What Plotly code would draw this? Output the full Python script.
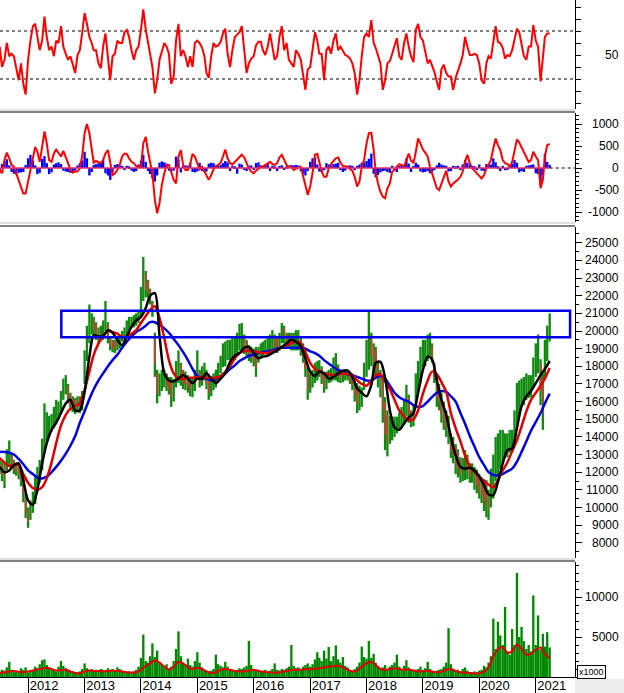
import plotly.graph_objects as go
from datetime import date

# ---------------- dates (half-month steps and month steps) ----------------
half_dates = []
for yy in range(2011, 2022):
    for mm in range(1, 13):
        for dd in (1, 16):
            dt = date(yy, mm, dd)
            if date(2011, 7, 1) <= dt <= date(2021, 4, 1):
                half_dates.append(dt.isoformat())
month_dates = [d for d in half_dates if d.endswith("-01")]

year_ticks = ["2012-01-01", "2013-01-01", "2014-01-01", "2015-01-01", "2016-01-01",
              "2017-01-01", "2018-01-01", "2019-01-01", "2020-01-01", "2021-01-01"]
year_labels = ["2012", "2013", "2014", "2015", "2016", "2017", "2018", "2019", "2020", "2021"]

# ---------------- price (half-month low / high) ----------------
price_low = [
    11900, 11500, 11100, 12100, 12300, 12200, 11900, 11800, 11600, 11200, 10300, 9400,
    8850, 9300, 9700, 10200, 10900, 11400, 12100, 13200, 13700, 14000, 14300, 14500,
    14800, 15000, 15300, 16100, 16400, 15900, 15500, 15400, 15300, 15400, 15350, 15500,
    17000, 18300, 19300, 19800, 19700, 19500, 19300, 19400, 19500, 20000, 19300, 18900,
    18800, 18750, 18900, 19000, 19400, 19500, 19800, 20050, 20200, 20200, 20300, 20450,
    20800, 21700, 21900, 21900, 21500, 20800, 17400, 15900, 16300, 16600, 16800, 16600,
    16400, 15700, 16000, 16800, 17050, 16900, 16700, 16650, 16500, 16300, 16250, 16600,
    17400, 16800, 16900, 17200, 16700, 16100, 16300, 16650, 16800, 17200, 17600, 17950,
    18000, 18350, 18350, 18400, 18350, 18600, 18900, 18900, 18700, 18550, 18300, 18200,
    18000, 17400, 18200, 18550, 18600, 18700, 18750, 18800, 18900, 18800, 18750, 18900,
    19300, 19300, 19100, 19100, 18900, 18900, 18900, 18900, 18600, 18200, 17400, 16100,
    16500, 16800, 17050, 17200, 17400, 17000, 16500, 16700, 17050, 17100, 17200, 17200,
    17100, 17050, 17100, 17200, 17200, 17000, 16650, 16000, 15350, 15500, 15700, 16650,
    17400, 17800, 18000, 17600, 17400, 16800, 16250, 14800, 13250, 12900, 13600, 13800,
    14000, 14200, 14400, 14550, 14800, 15150, 14800, 14550, 14600, 15700, 16600, 17050,
    17950, 18000, 18300, 18600, 18200, 17050, 15700, 15500, 14800, 14400, 14000, 13600,
    12800, 12500, 11900, 11700, 11400, 11500, 11550, 11600, 11400, 11400, 11000, 10800,
    10500, 10250, 9800, 9450, 9300, 10000, 10500, 11500, 11800, 12200, 12500, 12800,
    12850, 13100, 13100, 13600, 14550, 15300, 15700, 15800, 16100, 16200, 16250, 16800,
    17400, 17600, 15800, 14400, 17400, 18300, 19400]
price_high = [
    12700, 12600, 12500, 13300, 13800, 13100, 12700, 12500, 12400, 12300, 11800, 10800,
    10000, 10400, 10900, 11700, 12300, 12700, 13900, 15900, 15400, 15200, 15300, 15700,
    16100, 16000, 16600, 17300, 17500, 17000, 16500, 16300, 16200, 16300, 16300, 16600,
    18900, 20300, 21500, 21000, 20800, 20500, 20200, 20300, 20600, 21700, 20500, 19700,
    19500, 19500, 19600, 19800, 20000, 20200, 20600, 20800, 20800, 20900, 21000, 21100,
    22500, 24200, 23400, 22900, 22400, 21700, 19900, 17800, 17600, 17800, 17800, 17600,
    17400, 17400, 17300, 18300, 18900, 18200, 17800, 17700, 17500, 17300, 17400, 17800,
    18900, 17800, 18000, 18200, 17800, 17400, 17300, 17600, 17800, 18200, 18600, 19300,
    19400, 19500, 19500, 19600, 19650, 19900, 20400, 20450, 19800, 19500, 19200, 19100,
    19000, 19100, 19100, 19300, 19400, 19500, 19650, 19800, 20050, 19800, 19650, 19900,
    20450, 20300, 19900, 19900, 19900, 19900, 20050, 20050, 19600, 19300, 19000, 17950,
    17600, 17800, 18200, 18300, 18350, 18000, 17600, 17700, 17800, 17900, 18500, 18750,
    18100, 17800, 17800, 17800, 17800, 17700, 17600, 17200, 17050, 16900, 16800, 18200,
    19500, 21100, 19900, 19300, 19100, 18200, 17800, 17400, 16250, 15500, 15200, 15150,
    15150, 15150, 15400, 15700, 16100, 16950, 16400, 15500, 15800, 17600, 18300, 19100,
    19500, 19500, 19800, 19900, 19300, 18200, 17400, 17000, 16500, 16000, 15500, 15200,
    14200, 14000, 13600, 13300, 12850, 12800, 13250, 13000, 12500, 12500, 12300, 12150,
    11900, 11700, 11600, 11550, 11000, 12200, 13000, 14000, 14200, 14400, 14400, 14200,
    14200, 14400, 14400, 15500, 17050, 17200, 17300, 17400, 17600, 17500, 17500, 18500,
    19300, 19800, 18400, 17600, 19500, 20300, 21000]

# ---------------- price moving averages (monthly) ----------------
ma_black = [
    12300, 12000, 12100, 12400, 12500, 11550, 10400, 10150, 11000, 12500, 13650, 14400,
    14800, 15350, 15900, 16100, 15500, 15500, 16550, 18550, 19750, 19700, 19700, 20050,
    19900, 19500, 19200, 19700, 20250, 20600, 20800, 21300, 22000, 22150, 19750, 17600,
    17200, 17150, 17300, 17500, 17300, 17050, 17300, 17300, 17600, 17300, 17050, 17300,
    17600, 18250, 18600, 18750, 19050, 19100, 18750, 18450, 18550, 18600, 18750, 18900,
    19100, 19300, 19500, 19400, 19150, 18450, 17700, 17450, 17700, 17600, 17300, 17400,
    17600, 17750, 17750, 17400, 16750, 16500, 16300, 16950, 18200, 18250, 17350, 15500,
    14550, 14400, 14750, 15100, 15350, 16500, 17800, 18550, 18400, 17200, 16100, 15250,
    14000, 12950, 12300, 12200, 12250, 12100, 11750, 11250, 10750, 10700, 11450, 12500,
    13250, 13350, 14500, 15750, 16300, 16600, 17050, 17500, 17850, 18300]
ma_red = [
    12800, 12550, 12350, 12400, 12400, 11900, 11400, 11100, 11000, 11150, 11650, 12550,
    13650, 14650, 15250, 15600, 15750, 15900, 16650, 17700, 18650, 19300, 19750, 20000,
    19950, 19850, 19650, 19700, 19850, 20050, 20450, 20850, 21200, 21400, 20750, 19600,
    18350, 17600, 17300, 17300, 17350, 17350, 17400, 17350, 17350, 17350, 17350, 17450,
    17700, 18000, 18450, 18750, 18850, 18900, 18850, 18800, 18750, 18750, 18850, 18900,
    19100, 19200, 19300, 19400, 19300, 18800, 18200, 17850, 17700, 17600, 17550, 17500,
    17550, 17600, 17550, 17500, 17200, 17000, 16900, 17200, 17500, 17550, 17150, 16700,
    16100, 15500, 15150, 14950, 15000, 15500, 16450, 17200, 17700, 17550, 17100, 16550,
    15350, 14500, 13750, 12950, 12350, 12000, 11750, 11500, 11300, 11150, 11550, 12100,
    12550, 13200, 13800, 14600, 15450, 16100, 16500, 16900, 17300, 17900]
ma_blue = [
    13150, 13150, 13100, 13000, 12750, 12450, 12100, 11900, 11700, 11650, 11750, 12000,
    12300, 12650, 13050, 13500, 14050, 14800, 15450, 16150, 16700, 17200, 17600, 18000,
    18350, 18650, 19050, 19400, 19700, 19950, 20100, 20300, 20500, 20500, 20350, 20150,
    19900, 19550, 19200, 18800, 18350, 17850, 17450, 17350, 17300, 17200, 17300, 17450,
    17600, 17850, 18050, 18300, 18450, 18600, 18650, 18750, 18800, 18850, 18900, 19000,
    19050, 19050, 19050, 19050, 19050, 19000, 18850, 18750, 18600, 18350, 18150, 17950,
    17800, 17700, 17550, 17500, 17400, 17300, 17200, 17200, 17350, 17450, 17300, 16900,
    16500, 16250, 16100, 16000, 15800, 15700, 15750, 16000, 16250, 16500, 16600, 16550,
    16300, 16000, 15350, 14750, 14050, 13450, 12850, 12400, 12000, 11850, 11800, 11900,
    12050, 12200, 12600, 13150, 13750, 14350, 14850, 15350, 15900, 16450]

# ---------------- RSI (half-month) ----------------
rsi = [
    57, 40, 46, 60, 49, 51, 49, 40, 29, 43, 26, 17,
    46, 62, 74, 76, 65, 54, 62, 82, 65, 54, 57, 49,
    62, 60, 74, 57, 51, 46, 49, 42, 35, 50, 54, 68,
    85, 76, 65, 60, 54, 54, 43, 39, 57, 68, 46, 29,
    49, 51, 62, 60, 60, 69, 71, 65, 54, 46, 54, 57,
    71, 88, 71, 60, 54, 40, 18, 29, 46, 54, 60, 57,
    51, 26, 32, 62, 76, 49, 54, 49, 40, 49, 40, 60,
    62, 60, 56, 49, 35, 31, 49, 60, 57, 58, 61, 68,
    72, 51, 40, 54, 65, 67, 69, 74, 54, 35, 43, 47,
    49, 58, 61, 61, 54, 50, 57, 68, 57, 46, 49, 65,
    74, 54, 60, 46, 43, 40, 54, 51, 46, 32, 21, 38,
    40, 54, 69, 62, 51, 51, 29, 54, 57, 51, 62, 68,
    54, 57, 53, 50, 49, 47, 43, 35, 17, 29, 49, 65,
    68, 65, 79, 60, 56, 49, 43, 21, 29, 43, 45, 51,
    57, 64, 49, 46, 60, 68, 57, 49, 44, 71, 76, 65,
    62, 54, 43, 46, 42, 36, 28, 21, 38, 42, 35, 32,
    32, 21, 31, 36, 43, 50, 65, 57, 50, 50, 51, 50,
    43, 29, 26, 43, 49, 47, 61, 74, 61, 60, 56, 47,
    50, 49, 54, 62, 72, 69, 60, 49, 46, 57, 57, 75,
    62, 57, 28, 51, 65, 68, 68]
rsi_levels = [70, 30]

# ---------------- MACD (half-month) ----------------
macd_line = [
    -45, -120, 180, 350, 220, 70, 30, -120, -235, -420, -580, -580,
    -310, -80, 260, 480, 370, 140, 480, 830, 560, 180, 140, 330,
    420, 330, 260, 390, 260, 110, -45, -105, -80, -80, -10, 260,
    790, 1000, 790, 410, 120, 160, 140, 110, 180, 330, 410, 110,
    -160, -120, -45, 70, 260, 330, 320, 220, 140, 110, 45, 30,
    30, 560, 710, 370, 140, -120, -730, -1030, -800, -390, -120, 70,
    70, -80, -270, -350, 260, 410, 70, -45, -45, 100, 320, 260,
    110, -30, 30, -80, -160, -270, -160, -30, 30, 70, 120, 260,
    420, 220, 110, 80, 140, 200, 260, 300, 240, 110, -10, -80,
    -120, -60, -10, 30, 30, 70, 120, 140, 90, 70, 110, 240,
    300, 180, 70, 30, 30, -45, -10, 15, 30, -160, -390, -610,
    -420, -120, 300, 320, 110, -80, -200, -200, -10, 90, 160, 220,
    240, 120, 45, 30, 30, -20, -60, -200, -420, -310, 30, 180,
    560, 790, 800, 410, -80, -350, -540, -650, -690, -460, -350, -80,
    -45, 30, 90, 70, 30, 180, 330, 170, 110, 370, 670, 560,
    420, 350, 260, 30, -120, -310, -460, -500, -350, -200, -60, -310,
    -420, -350, -310, -260, -200, -80, 140, 300, 110, -10, -60, -120,
    -160, -235, -160, -10, 70, 180, 450, 670, 520, 410, 180, 110,
    90, 30, 140, 370, 650, 580, 470, 370, 260, 140, 180, 370,
    260, 180, -460, -270, 260, 520, 550]
macd_hist = [
    -80, 90, 150, 200, 60, -90, -130, -150, -110, -100, -90, 70,
    220, 300, 170, 60, -140, -110, 210, 270, 110, -140, -100, 80,
    110, 130, 90, -60, -80, -90, -110, -90, -60, 60, 110, 170,
    370, 220, -170, -90, 70, 90, 110, 140, 190, -120, -170, -270,
    -90, 70, 90, 60, 50, -50, 50, 40, -60, -90, -70, 80,
    170, 300, 140, -70, -140, -235, -310, -170, 120, 150, 130, 100,
    -60, -80, -60, 260, 190, -100, 50, 60, 50, 120, -90, -100,
    -80, 120, -70, -90, -80, 100, 120, 110, 60, 50, 70, 110,
    160, 130, -70, 50, 40, -130, 100, 80, -40, -70, 50, 60,
    -40, 110, 130, 60, 50, 80, 110, -70, 50, 40, -70, 50,
    60, -40, 40, 50, 70, 60, 70, 60, -70, -130, -170, -70,
    140, 220, 240, 80, -80, -90, -50, 110, 80, 60, 90, 100,
    120, -50, -90, -60, 50, 60, 50, -50, 50, 80, 120, 130,
    160, 210, 330, -130, -210, -160, -100, -70, -60, -90, -110, 50,
    -50, -90, 50, 60, 70, 220, 100, -90, 50, 120, 80, -80,
    -100, -90, -70, -120, -90, -50, 60, 120, 80, 60, 50, -80,
    -70, 50, 40, 50, -50, 80, 180, 120, 70, 50, 40, -50,
    80, -60, -70, 90, 70, 80, 220, 130, 40, -70, 50, -50,
    -40, 50, 90, 180, 120, -100, -70, -90, 50, 60, 70, 80,
    -120, -140, -390, -170, 330, 140, 70]

# ---------------- volume (half-month, x1000) and its average (monthly) ----------------
volume = [
    700, 900, 800, 1200, 1900, 900, 600, 800, 700, 1100, 900, 1200,
    600, 800, 900, 1300, 1100, 1600, 2100, 2200, 1500, 1200, 900, 800,
    700, 1300, 2000, 1400, 1100, 900, 700, 600, 500, 600, 700, 1000,
    1700, 1100, 900, 1000, 800, 900, 700, 1000, 900, 800, 1100, 900,
    1000, 800, 1200, 1000, 800, 700, 600, 700, 600, 700, 900, 1300,
    2400, 5300, 2000, 1800, 2600, 4200, 2500, 3300, 1800, 1500, 1200, 1600,
    1100, 1300, 2000, 3500, 5700, 2600, 1800, 1600, 2300, 1500, 1300, 2000,
    3100, 1800, 1200, 900, 800, 700, 800, 1000, 2800, 1600, 1400, 1200,
    1900, 1300, 1000, 900, 800, 900, 1100, 1000, 1200, 1400, 4500, 1500,
    1000, 800, 900, 700, 800, 900, 700, 800, 1000, 1700, 900, 800,
    1000, 900, 1100, 1300, 4000, 1400, 1100, 1200, 1000, 1300, 1500, 1700,
    1300, 1600, 2200, 3100, 2400, 2000, 3300, 2300, 3750, 2000, 2600, 3950,
    2200, 1800, 2500, 1400, 1200, 900, 800, 1000, 1300, 1800, 3800, 2500,
    2300, 4500, 2400, 2900, 1800, 1300, 1100, 1200, 1500, 1000, 1300, 1500,
    1800, 2800, 1300, 1000, 1400, 2100, 1200, 1000, 800, 900, 1000, 1300,
    900, 1100, 1900, 1000, 800, 700, 800, 900, 1000, 1300, 1800, 6100,
    1600, 1000, 800, 900, 700, 1000, 1200, 800, 600, 500, 700, 600,
    800, 900, 1400, 1200, 1800, 2600, 7300, 3500, 6900, 5200, 4000, 8750,
    3200, 2800, 6000, 4000, 13000, 5000, 6250, 4500, 3500, 4000, 3200, 10200,
    4000, 7700, 3500, 5400, 3800, 5600, 3700]
volume_ma = [
    500, 600, 700, 750, 650, 600, 700, 800, 950, 1050, 1150, 1000,
    800, 850, 900, 700, 500, 450, 700, 800, 750, 750, 700, 750,
    800, 750, 700, 600, 550, 600, 900, 1400, 1700, 2100, 1800, 1300,
    900, 1300, 1900, 1700, 1200, 1000, 1150, 1000, 700, 500, 600, 900,
    1000, 900, 750, 700, 700, 800, 900, 750, 650, 600, 550, 550,
    650, 750, 850, 900, 900, 1000, 950, 1050, 1100, 1200, 1300, 1350,
    1400, 1200, 900, 700, 800, 1300, 1700, 1900, 1500, 1000, 900, 1000,
    1100, 1000, 900, 950, 800, 700, 700, 800, 650, 600, 650, 900,
    1000, 750, 600, 550, 500, 450, 450, 700, 1200, 2600, 3500, 3750,
    3000, 3200, 4100, 3500, 2800, 2900, 3400, 3700, 2900, 2400]

# resistance zone drawn on the price panel
zone_start, zone_end = "2012-08-03", "2021-08-11"
zone_low, zone_high = 19650, 21150

# axis label values
rsi_labels = [50]
macd_labels = [1000, 500, 0, -500, -1000]
price_labels = [25000, 24000, 23000, 22000, 21000, 20000, 19000, 18000, 17000, 16000,
                15000, 14000, 13000, 12000, 11000, 10000, 9000, 8000]
vol_labels = [10000, 5000]

for arr in (price_low, price_high, rsi, macd_line, macd_hist, volume):
    assert len(arr) == len(half_dates), len(arr)
for arr in (ma_black, ma_red, ma_blue, volume_ma):
    assert len(arr) == len(month_dates), len(arr)

# ---------------- figure ----------------
GREEN = "#118a11"
BAR_W = 1.3e9
fig = go.Figure()

# RSI
fig.add_trace(go.Scatter(x=half_dates, y=rsi, mode="lines", yaxis="y",
                         line=dict(color="#ff0000", width=2)))
# MACD
fig.add_trace(go.Bar(x=half_dates, y=macd_hist, yaxis="y2", width=BAR_W,
                     marker=dict(color="#0000ff", line=dict(width=0))))
fig.add_trace(go.Scatter(x=half_dates, y=macd_line, mode="lines", yaxis="y2",
                         line=dict(color="#ff0000", width=2)))
# Price bars
rng = [h - l for h, l in zip(price_high, price_low)]
fig.add_trace(go.Bar(x=half_dates, y=rng, base=price_low, yaxis="y3", width=BAR_W,
                     marker=dict(color=GREEN, line=dict(width=0))))
mids = [(h + l) / 2 for h, l in zip(price_high, price_low)]
down_x, down_y, down_b = [], [], []
for k in range(1, len(mids)):
    if mids[k] < mids[k - 1]:
        down_x.append(half_dates[k])
        down_y.append((price_high[k] - price_low[k]) * 0.6)
        down_b.append(price_low[k] + (price_high[k] - price_low[k]) * 0.3)
fig.add_trace(go.Bar(x=down_x, y=down_y, base=down_b, yaxis="y3", width=0.5e9,
                     marker=dict(color="#a0522d", line=dict(width=0))))
fig.add_trace(go.Scatter(x=month_dates, y=ma_blue, mode="lines", yaxis="y3",
                         line=dict(color="#0000e0", width=2.5, shape="spline", smoothing=0.8)))
fig.add_trace(go.Scatter(x=month_dates, y=ma_red, mode="lines", yaxis="y3",
                         line=dict(color="#e00000", width=2.5, shape="spline", smoothing=0.8)))
fig.add_trace(go.Scatter(x=month_dates, y=ma_black, mode="lines", yaxis="y3",
                         line=dict(color="#000000", width=2.5, shape="spline", smoothing=0.8)))
# Volume
fig.add_trace(go.Bar(x=half_dates, y=volume, yaxis="y4", width=BAR_W,
                     marker=dict(color="#008800", line=dict(width=0))))
fig.add_trace(go.Scatter(x=month_dates, y=volume_ma, mode="lines", yaxis="y4",
                         line=dict(color="#e00000", width=2, shape="spline", smoothing=0.6)))

H = 677.0  # plot-area height in px


def py(p):
    return (H - p) / H


FONT = "Liberation Sans, Arial, sans-serif"
yax_common = dict(side="right", anchor="x", showline=True, linecolor="black", linewidth=1,
                  ticks="outside", tickcolor="black", showgrid=False, zeroline=False,
                  showticklabels=False, fixedrange=True)

fig.update_layout(
    width=624, height=693,
    margin=dict(l=0, r=49, t=0, b=16, autoexpand=False),
    paper_bgcolor="white", plot_bgcolor="white",
    showlegend=False, barmode="overlay",
    font=dict(family=FONT, size=12, color="black"),
    xaxis=dict(domain=[0, 1], anchor="y4", type="date",
               range=["2011-07-03", "2021-09-12"],
               tickmode="array", tickvals=year_ticks, ticktext=year_labels,
               ticks="outside", ticklen=16, tickcolor="black", tickwidth=1,
               ticklabelshift=16, ticklabelstandoff=-20,
               tickfont=dict(family=FONT, size=13, color="black"),
               showline=True, linecolor="black", linewidth=1,
               showgrid=False, zeroline=False, fixedrange=True),
    yaxis=dict(domain=[py(109), 1.0], range=[5, 95.83],
               tickmode="linear", tick0=0, dtick=10, ticklen=5, **yax_common),
    yaxis2=dict(domain=[py(222), py(113)], range=[-1227, 1250],
                tickmode="linear", tick0=0, dtick=500, ticklen=6,
                minor=dict(ticks="outside", dtick=100, ticklen=3, tickcolor="black"),
                **yax_common),
    yaxis3=dict(domain=[py(558), py(227)], range=[7139, 25892],
                tickmode="linear", tick0=0, dtick=1000, ticklen=6,
                minor=dict(ticks="outside", dtick=500, ticklen=3, tickcolor="black"),
                **yax_common),
    yaxis4=dict(domain=[0, py(562)], range=[0, 14375],
                tickmode="linear", tick0=0, dtick=5000, ticklen=6,
                minor=dict(ticks="outside", dtick=1000, ticklen=3, tickcolor="black"),
                **yax_common),
)

shapes = []
# panel separators
for light, dark in ((110, 112), (223, 226), (559, 561)):
    shapes.append(dict(type="line", xref="paper", yref="paper", x0=0, x1=1,
                       y0=py(light), y1=py(light), line=dict(color="#d4d4d4", width=1.5)))
    shapes.append(dict(type="line", xref="paper", yref="paper", x0=0, x1=1,
                       y0=py(dark), y1=py(dark), line=dict(color="#808080", width=2)))
# RSI 70/30 dashed guides
for lv in rsi_levels:
    shapes.append(dict(type="line", xref="paper", yref="y", x0=0, x1=1, y0=lv, y1=lv,
                       line=dict(color="black", width=1, dash="3px,3px"), layer="below"))
# MACD zero line
shapes.append(dict(type="line", xref="x", yref="y2", x0=half_dates[0], x1=half_dates[-1],
                   y0=0, y1=0, line=dict(color="#e0306a", width=1.5)))
shapes.append(dict(type="line", xref="x", yref="y2", x0=half_dates[-1], x1="2021-09-12",
                   y0=0, y1=0, line=dict(color="black", width=1, dash="3px,3px")))
# resistance zone
shapes.append(dict(type="rect", xref="x", yref="y3", x0=zone_start, x1=zone_end,
                   y0=zone_low, y1=zone_high, line=dict(color="#0000e6", width=2.5),
                   fillcolor="rgba(0,0,0,0)", layer="above"))
# grey corner under the right axis
shapes.append(dict(type="rect", xref="paper", yref="paper", x0=1.0, x1=1.1,
                   y0=-0.03, y1=py(679), line=dict(width=0), fillcolor="#ececec",
                   layer="below"))
fig.update_layout(shapes=shapes)

annotations = []
LX = 621 / 575.0
for val in rsi_labels:
    annotations.append(dict(xref="paper", yref="y", x=LX, y=val, text=str(val),
                            xanchor="right", yanchor="middle", showarrow=False))
for val in macd_labels:
    annotations.append(dict(xref="paper", yref="y2", x=LX, y=val, text=str(val),
                            xanchor="right", yanchor="middle", showarrow=False))
for val in price_labels:
    annotations.append(dict(xref="paper", yref="y3", x=LX, y=val, text=str(val),
                            xanchor="right", yanchor="middle", showarrow=False))
for val in vol_labels:
    annotations.append(dict(xref="paper", yref="y4", x=LX, y=val, text=str(val),
                            xanchor="right", yanchor="middle", showarrow=False))
annotations.append(dict(xref="paper", yref="paper", x=577 / 575.0, y=py(672), text="x1000",
                        xanchor="left", yanchor="middle", showarrow=False,
                        font=dict(size=9), bordercolor="black", borderwidth=1,
                        borderpad=1, bgcolor="white"))
fig.update_layout(annotations=annotations)

fig.write_html("out.html", config={"displayModeBar": False},
               post_script="document.body.style.margin='0';document.body.style.padding='0';")
